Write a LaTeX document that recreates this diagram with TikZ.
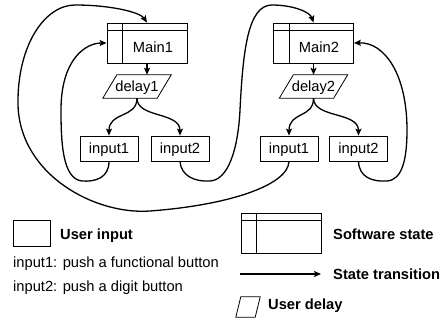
\documentclass[tikz,border=0pt]{standalone}
\usepackage{fontspec}
\setmainfont{Liberation Sans}
\usetikzlibrary{arrows.meta,calc}
\newcommand\mystatelines[1]{%
  \draw[line width=0.8pt] ([yshift=-8pt]#1.north west) -- ([yshift=-8pt]#1.north east);
  \draw[line width=0.8pt] ([xshift=16pt]#1.north west) -- ([xshift=16pt]#1.south west);}
\newcommand\mypara[2]{%
  \draw[line width=0.8pt] (#1.south west) -- ($(#1.south east)+(-#2,0)$) -- (#1.north east) -- ($(#1.north west)+(#2,0)$) -- cycle;}
\begin{document}
\begin{tikzpicture}[x=1pt,y=1pt,
  font=\fontsize{14.7}{17}\selectfont,
  inbox/.style={draw,line width=0.8pt,minimum width=58pt,minimum height=25pt,inner sep=0pt,text height=10.5pt,text depth=0pt},
  statebox/.style={draw,line width=0.8pt,minimum width=80pt,minimum height=40pt,inner sep=0pt},
  ptext/.style={inner sep=0pt,text height=10.5pt,text depth=0pt},
  trans/.style={line width=1.3pt,-{Stealth[length=7pt,width=6pt,inset=1.5pt]}},
  legtext/.style={anchor=base west,inner sep=0pt},
]
\useasboundingbox (0,0) rectangle (446,-329);

% group 1
\node[statebox] (main1) at (147,-43) {};
\mystatelines{main1}
\node[ptext] (main1t) at (153,-47) {Main1};
\node[ptext,minimum width=68pt,minimum height=23pt] (delay1) at (137,-86.5) {delay1};
\mypara{delay1}{14}
\node[inbox] (in1a) at (109,-148.5) {input1};
\node[inbox] (in2a) at (180,-148.5) {input2};

% group 2
\node[statebox] (main2) at (313.5,-43) {};
\mystatelines{main2}
\node[ptext] (main2t) at (319,-47) {Main2};
\node[ptext,minimum width=68pt,minimum height=23pt] (delay2) at (313.5,-86.5) {delay2};
\mypara{delay2}{14}
\node[inbox] (in1b) at (289,-148.5) {input1};
\node[inbox] (in2b) at (358.5,-148.5) {input2};

% transitions
\draw[trans] (main1.south) -- (main1.south |- delay1.north);
\draw[trans] (delay1.south) .. controls +(0,-20) and +(0,24) .. (in1a.north);
\draw[trans] (delay1.south) .. controls +(0,-20) and +(0,24) .. (in2a.north);
\draw[trans] (main2.south) -- (main2.south |- delay2.north);
\draw[trans] (delay2.south) .. controls +(0,-20) and +(0,24) .. (in1b.north);
\draw[trans] (delay2.south) .. controls +(0,-20) and +(0,24) .. (in2b.north);

\draw[trans] (in1a.south) .. controls (109,-178) and (95,-182) .. (82,-181)
  .. controls (62,-179) and (61,-140) .. (61,-110)
  .. controls (61,-60) and (85,-43) .. (main1.west);
\draw[trans] (in2a.south) .. controls (181,-176) and (195,-182) .. (210,-181)
  .. controls (228,-180) and (238,-150) .. (240,-110)
  .. controls (243,-50) and (248,-5) .. (272,-5)
  .. controls (293,-5) and (310,-12) .. (main2.north);
\draw[trans] (in1b.south) .. controls (288,-185) and (230,-205) .. (150,-211)
  .. controls (95,-215) and (20,-175) .. (18,-105)
  .. controls (17,-45) and (45,-5) .. (75,-5)
  .. controls (110,-5) and (140,-12) .. (main1.north);
\draw[trans] (in2b.south) .. controls (359,-177) and (372,-182) .. (387,-181)
  .. controls (402,-180) and (407,-160) .. (407,-130)
  .. controls (407,-75) and (385,-42) .. (main2.east);

% legend
\node[draw,line width=0.8pt,minimum width=37pt,minimum height=26pt,inner sep=0pt] (leginput) at (31.5,-233) {};
\node[legtext] (leginputt) at (60,-239) {\bfseries User input};
\node[legtext] (legin1) at (13,-267) {input1: push a functional button};
\node[legtext] (legin2) at (13,-291) {input2: push a digit button};

\node[statebox] (legstate) at (281,-233) {};
\mystatelines{legstate}
\node[legtext] (legstatet) at (333,-239) {\bfseries Software state};

\coordinate (la1) at (240,-274);
\coordinate (la2) at (321,-274);
\draw[trans] (la1) -- (la2);
\node[legtext] (legtranst) at (333,-279) {\bfseries State transition};

\node[inner sep=0pt,minimum width=24pt,minimum height=20pt] (legdelay) at (248,-307) {};
\mypara{legdelay}{5}
\node[legtext] (legdelayt) at (268,-309) {\bfseries User delay};
\end{tikzpicture}
\end{document}
